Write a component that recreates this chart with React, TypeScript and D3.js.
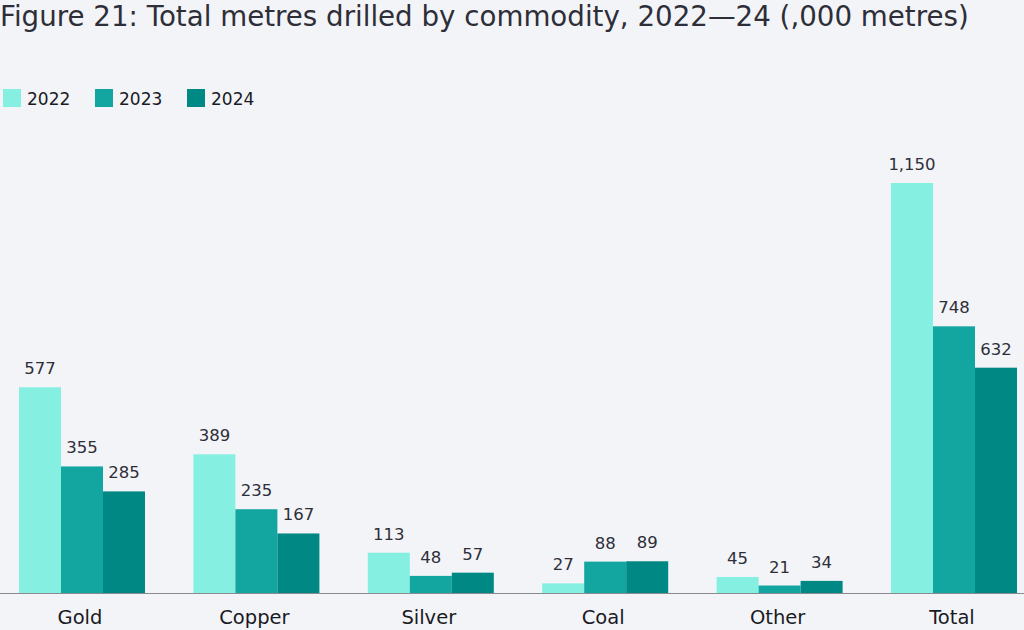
import React from "react";
import * as d3 from "d3";

const categories = ["Gold", "Copper", "Silver", "Coal", "Other", "Total"];
const years = ["2022", "2023", "2024"];
const values2022 = [577, 389, 113, 27, 45, 1150];
const values2023 = [355, 235, 48, 88, 21, 748];
const values2024 = [285, 167, 57, 89, 34, 632];
const colors = ["#85efe2", "#13a5a0", "#008884"];

const W = 1024;
const H = 630;
const baseY = 593;
const seriesValues = [values2022, values2023, values2024];

export default function App() {
  const step = 174.4;
  const groupW = 126;
  const start = 19 - (step - groupW) / 2;
  const x = d3
    .scaleBand<string>()
    .domain(categories)
    .range([start, start + step * categories.length])
    .paddingInner((step - groupW) / step)
    .paddingOuter((step - groupW) / step / 2);
  const x1 = d3.scaleBand<string>().domain(years).range([0, x.bandwidth()]).padding(0);
  const y = d3.scaleLinear().domain([0, 1150]).range([baseY, baseY - 410]);
  const fmt = d3.format(",");
  const font = "'DejaVu Sans', sans-serif";
  return (
    <svg width={W} height={H} style={{ position: "absolute", left: 0, top: 0, background: "#f3f4f8" }}>
      <rect x={0} y={0} width={W} height={H} fill="#f3f4f8" />
      <text x={0} y={26} fontFamily={font} fontSize={27.7} fill="#2e2e38">
        Figure 21: Total metres drilled by commodity, 2022—24 (,000 metres)
      </text>
      {years.map((yr, i) => (
        <g key={yr} transform={`translate(${3 + i * 92},89)`}>
          <rect width={18} height={18} fill={colors[i]} />
          <text x={24} y={15.5} fontFamily={font} fontSize={17} fill="#1a1a24">{yr}</text>
        </g>
      ))}
      {categories.map((c, ci) => (
        <g key={c} transform={`translate(${x(c)},0)`}>
          {years.map((yr, si) => {
            const v = seriesValues[si][ci];
            const bx = x1(yr)!;
            return (
              <g key={yr}>
                <rect x={bx} y={y(v)} width={x1.bandwidth()} height={baseY - y(v)} fill={colors[si]} />
                <text x={bx + x1.bandwidth() / 2} y={y(v) - 13} textAnchor="middle" fontFamily={font} fontSize={16.5} fill="#2e2e38">
                  {fmt(v)}
                </text>
              </g>
            );
          })}
          <text x={x.bandwidth() / 2 - 2} y={624} textAnchor="middle" fontFamily={font} fontSize={19.5} fill="#1a1a24">
            {c}
          </text>
        </g>
      ))}
      <line x1={0} x2={W} y1={baseY + 0.5} y2={baseY + 0.5} stroke="#8a8a90" strokeWidth={1} />
    </svg>
  );
}
